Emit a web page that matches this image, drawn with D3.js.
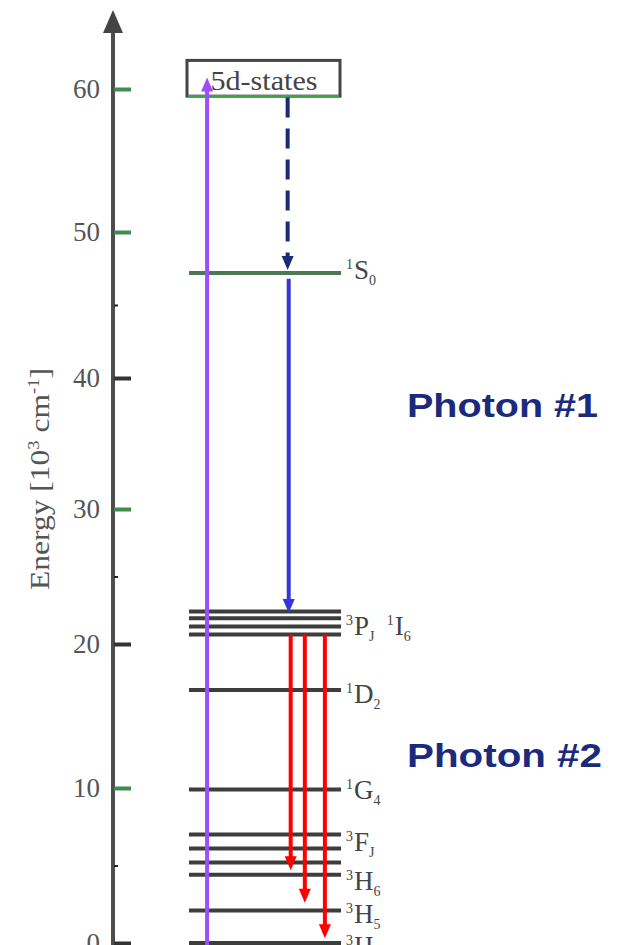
<!DOCTYPE html>
<html>
<head>
<meta charset="utf-8">
<script src="https://cdn.jsdelivr.net/npm/d3@7"></script>
<style>
  html, body { margin: 0; padding: 0; background: #fff; }
  svg { display: block; }
</style>
</head>
<body>
<svg id="chart" width="622" height="945"></svg>
<script>
// Energy axis ticks, in 10^3 cm^-1
const majorTicks = [0, 10, 20, 30, 40, 50, 60];
const minorTicks = [5, 25, 45];
const greenTicks = [10, 30, 50, 60];

// 4f2 levels of Pr3+, in 10^3 cm^-1
const levelEnergies = [47.2, 22.4, 21.9, 21.3, 20.7, 16.8, 9.9, 7.0, 6.1, 5.2, 4.4, 2.1, 0];
const accentLevels = [47.2];

// 5d band (lower and upper edge)
const band5d = [59.5, 62.0];
const band5dLabel = "5d-states";

// Term symbols: [multiplicity, L, J] placed next to their levels
const termLabelEnergies = [47.4, 21.3, 16.5, 9.9, 6.5, 4.0, 1.9, -0.2];
const termLabelParts = [
  [["1", "S", "0"]],
  [["3", "P", "J"], ["1", "I", "6"]],
  [["1", "D", "2"]],
  [["1", "G", "4"]],
  [["3", "F", "J"]],
  [["3", "H", "6"]],
  [["3", "H", "5"]],
  [["3", "H", "4"]]
];

// Transitions: start energy, end energy, slot along the level line (0..1), kind
const transFrom = [-0.3, 59.4, 46.8, 20.7, 20.7, 20.7];
const transTo   = [60.8, 47.4, 22.3, 4.7, 2.6, 0.3];
const transSlot = [0.119, 0.649, 0.656, 0.669, 0.762, 0.894];
const transKind = ["excite", "relax", "photon1", "photon2", "photon2", "photon2"];

const photonLabels = ["Photon #1", "Photon #2"];

// ---- drawing ----
const svg = d3.select("#chart");
const serif = "'Liberation Serif', 'Times New Roman', serif";

// the energy axis is drawn a little unevenly, so the scale passes through every labelled tick
const y = d3.scaleLinear().domain(majorTicks).range([943, 788, 644, 509, 378, 232, 89]);
const x = d3.scaleLinear().domain([0, 1]).range([189, 341]);
const axisX = 113;

// axis line with arrowhead
svg.append("line")
  .attr("x1", axisX).attr("x2", axisX)
  .attr("y1", 28).attr("y2", 945)
  .attr("stroke", "#4d4d4d").attr("stroke-width", 4);
svg.append("path")
  .attr("d", `M${axisX},10 L${axisX - 10},33 L${axisX + 10},33 Z`)
  .attr("fill", "#444");

// major ticks, pointing right
const gTicks = svg.append("g")
  .attr("transform", `translate(${axisX + 1},0)`)
  .call(d3.axisRight(y).tickValues(majorTicks).tickSize(17).tickFormat(""));
gTicks.select(".domain").remove();
gTicks.selectAll(".tick line")
  .attr("stroke", d => greenTicks.includes(d) ? "#3f8c4c" : "#333")
  .attr("stroke-width", 4);

// minor ticks
const gMinor = svg.append("g")
  .attr("transform", `translate(${axisX + 1},0)`)
  .call(d3.axisRight(y).tickValues(minorTicks).tickSize(4).tickFormat(""));
gMinor.select(".domain").remove();
gMinor.selectAll(".tick line").attr("stroke", "#222").attr("stroke-width", 2);

// tick labels on the left
const gLab = svg.append("g")
  .attr("transform", `translate(${axisX},0)`)
  .call(d3.axisLeft(y).tickValues(majorTicks).tickSize(0).tickPadding(13));
gLab.select(".domain").remove();
gLab.selectAll(".tick text")
  .attr("font-family", serif).attr("font-size", 27).attr("fill", "#555");

// axis title
const title = svg.append("text")
  .attr("transform", "translate(49,479) rotate(-90)")
  .attr("text-anchor", "middle")
  .attr("font-family", serif).attr("font-size", 27).attr("fill", "#555")
  .attr("textLength", 222).attr("lengthAdjust", "spacingAndGlyphs");
title.append("tspan").text("Energy [10");
title.append("tspan").attr("font-size", 16).attr("dy", -10).text("3");
title.append("tspan").attr("dy", 10).text(" cm");
title.append("tspan").attr("font-size", 16).attr("dy", -10).text("-1");
title.append("tspan").attr("dy", 10).text("]");

// 5d band box
svg.append("rect")
  .attr("x", x(0) - 2).attr("width", x(1) - x(0) + 1)
  .attr("y", y(band5d[1])).attr("height", y(band5d[0]) - y(band5d[1]))
  .attr("fill", "#fff").attr("stroke", "#444").attr("stroke-width", 3);
svg.append("line")
  .attr("x1", x(0) - 1).attr("x2", x(1) - 2)
  .attr("y1", y(band5d[0])).attr("y2", y(band5d[0]))
  .attr("stroke", "#3aa648").attr("stroke-width", 2.5);
svg.append("text")
  .attr("x", (x(0) + x(1)) / 2 - 1).attr("y", y(band5d[0]) - 6)
  .attr("text-anchor", "middle")
  .attr("font-family", serif).attr("font-size", 27).attr("fill", "#444")
  .attr("textLength", 107).attr("lengthAdjust", "spacingAndGlyphs")
  .text(band5dLabel);

// 4f2 levels
svg.append("g").selectAll("line")
  .data(levelEnergies)
  .join("line")
  .attr("x1", x(0)).attr("x2", x(1))
  .attr("y1", d => y(d)).attr("y2", d => y(d))
  .attr("stroke", d => accentLevels.includes(d) ? "#4b7a52" : "#3d3d3d")
  .attr("stroke-width", 4);

// term symbols
const gTerms = svg.append("g")
  .attr("font-family", serif).attr("fill", "#444");
termLabelEnergies.forEach((E, i) => {
  const t = gTerms.append("text").attr("x", x(1) + 5).attr("y", y(E) + 9);
  termLabelParts[i].forEach((p, k) => {
    t.append("tspan").attr("font-size", 14).attr("dy", -10)
      .attr("dx", k > 0 ? 12 : 0).text(p[0]);
    t.append("tspan").attr("font-size", 27).attr("dy", 10).attr("dx", 1).text(p[1]);
    t.append("tspan").attr("font-size", 14).attr("dy", 6).text(p[2]);
    t.append("tspan").attr("font-size", 1).attr("dy", -6).text(" ");
  });
});

// transitions
const kindColor = { excite: "#9b4dff", relax: "#1b2a78", photon1: "#3535d8", photon2: "#ff0000" };
const headLen = 14, headHalf = 6;
const gTr = svg.append("g");
transFrom.forEach((from, i) => {
  const xx = x(transSlot[i]);
  const y1 = y(from), y2 = y(transTo[i]);
  const dir = Math.sign(y2 - y1);
  const col = kindColor[transKind[i]];
  gTr.append("line")
    .attr("x1", xx).attr("x2", xx)
    .attr("y1", y1).attr("y2", y2 - dir * (headLen - 2))
    .attr("stroke", col).attr("stroke-width", 4)
    .attr("stroke-dasharray", transKind[i] === "relax" ? "20,11" : null);
  gTr.append("path")
    .attr("d", `M${xx},${y2} L${xx - headHalf},${y2 - dir * headLen} L${xx + headHalf},${y2 - dir * headLen} Z`)
    .attr("fill", col);
});

// photon annotations
svg.append("g").selectAll("text")
  .data(photonLabels)
  .join("text")
  .attr("x", 407)
  .attr("y", (d, i) => i === 0 ? 417 : 767)
  .attr("font-family", "'Liberation Sans', Arial, sans-serif")
  .attr("font-weight", "bold").attr("font-size", 34)
  .attr("fill", "#1c2a7c")
  .attr("textLength", (d, i) => i === 0 ? 191 : 195)
  .attr("lengthAdjust", "spacingAndGlyphs")
  .text(d => d);
</script>
</body>
</html>
